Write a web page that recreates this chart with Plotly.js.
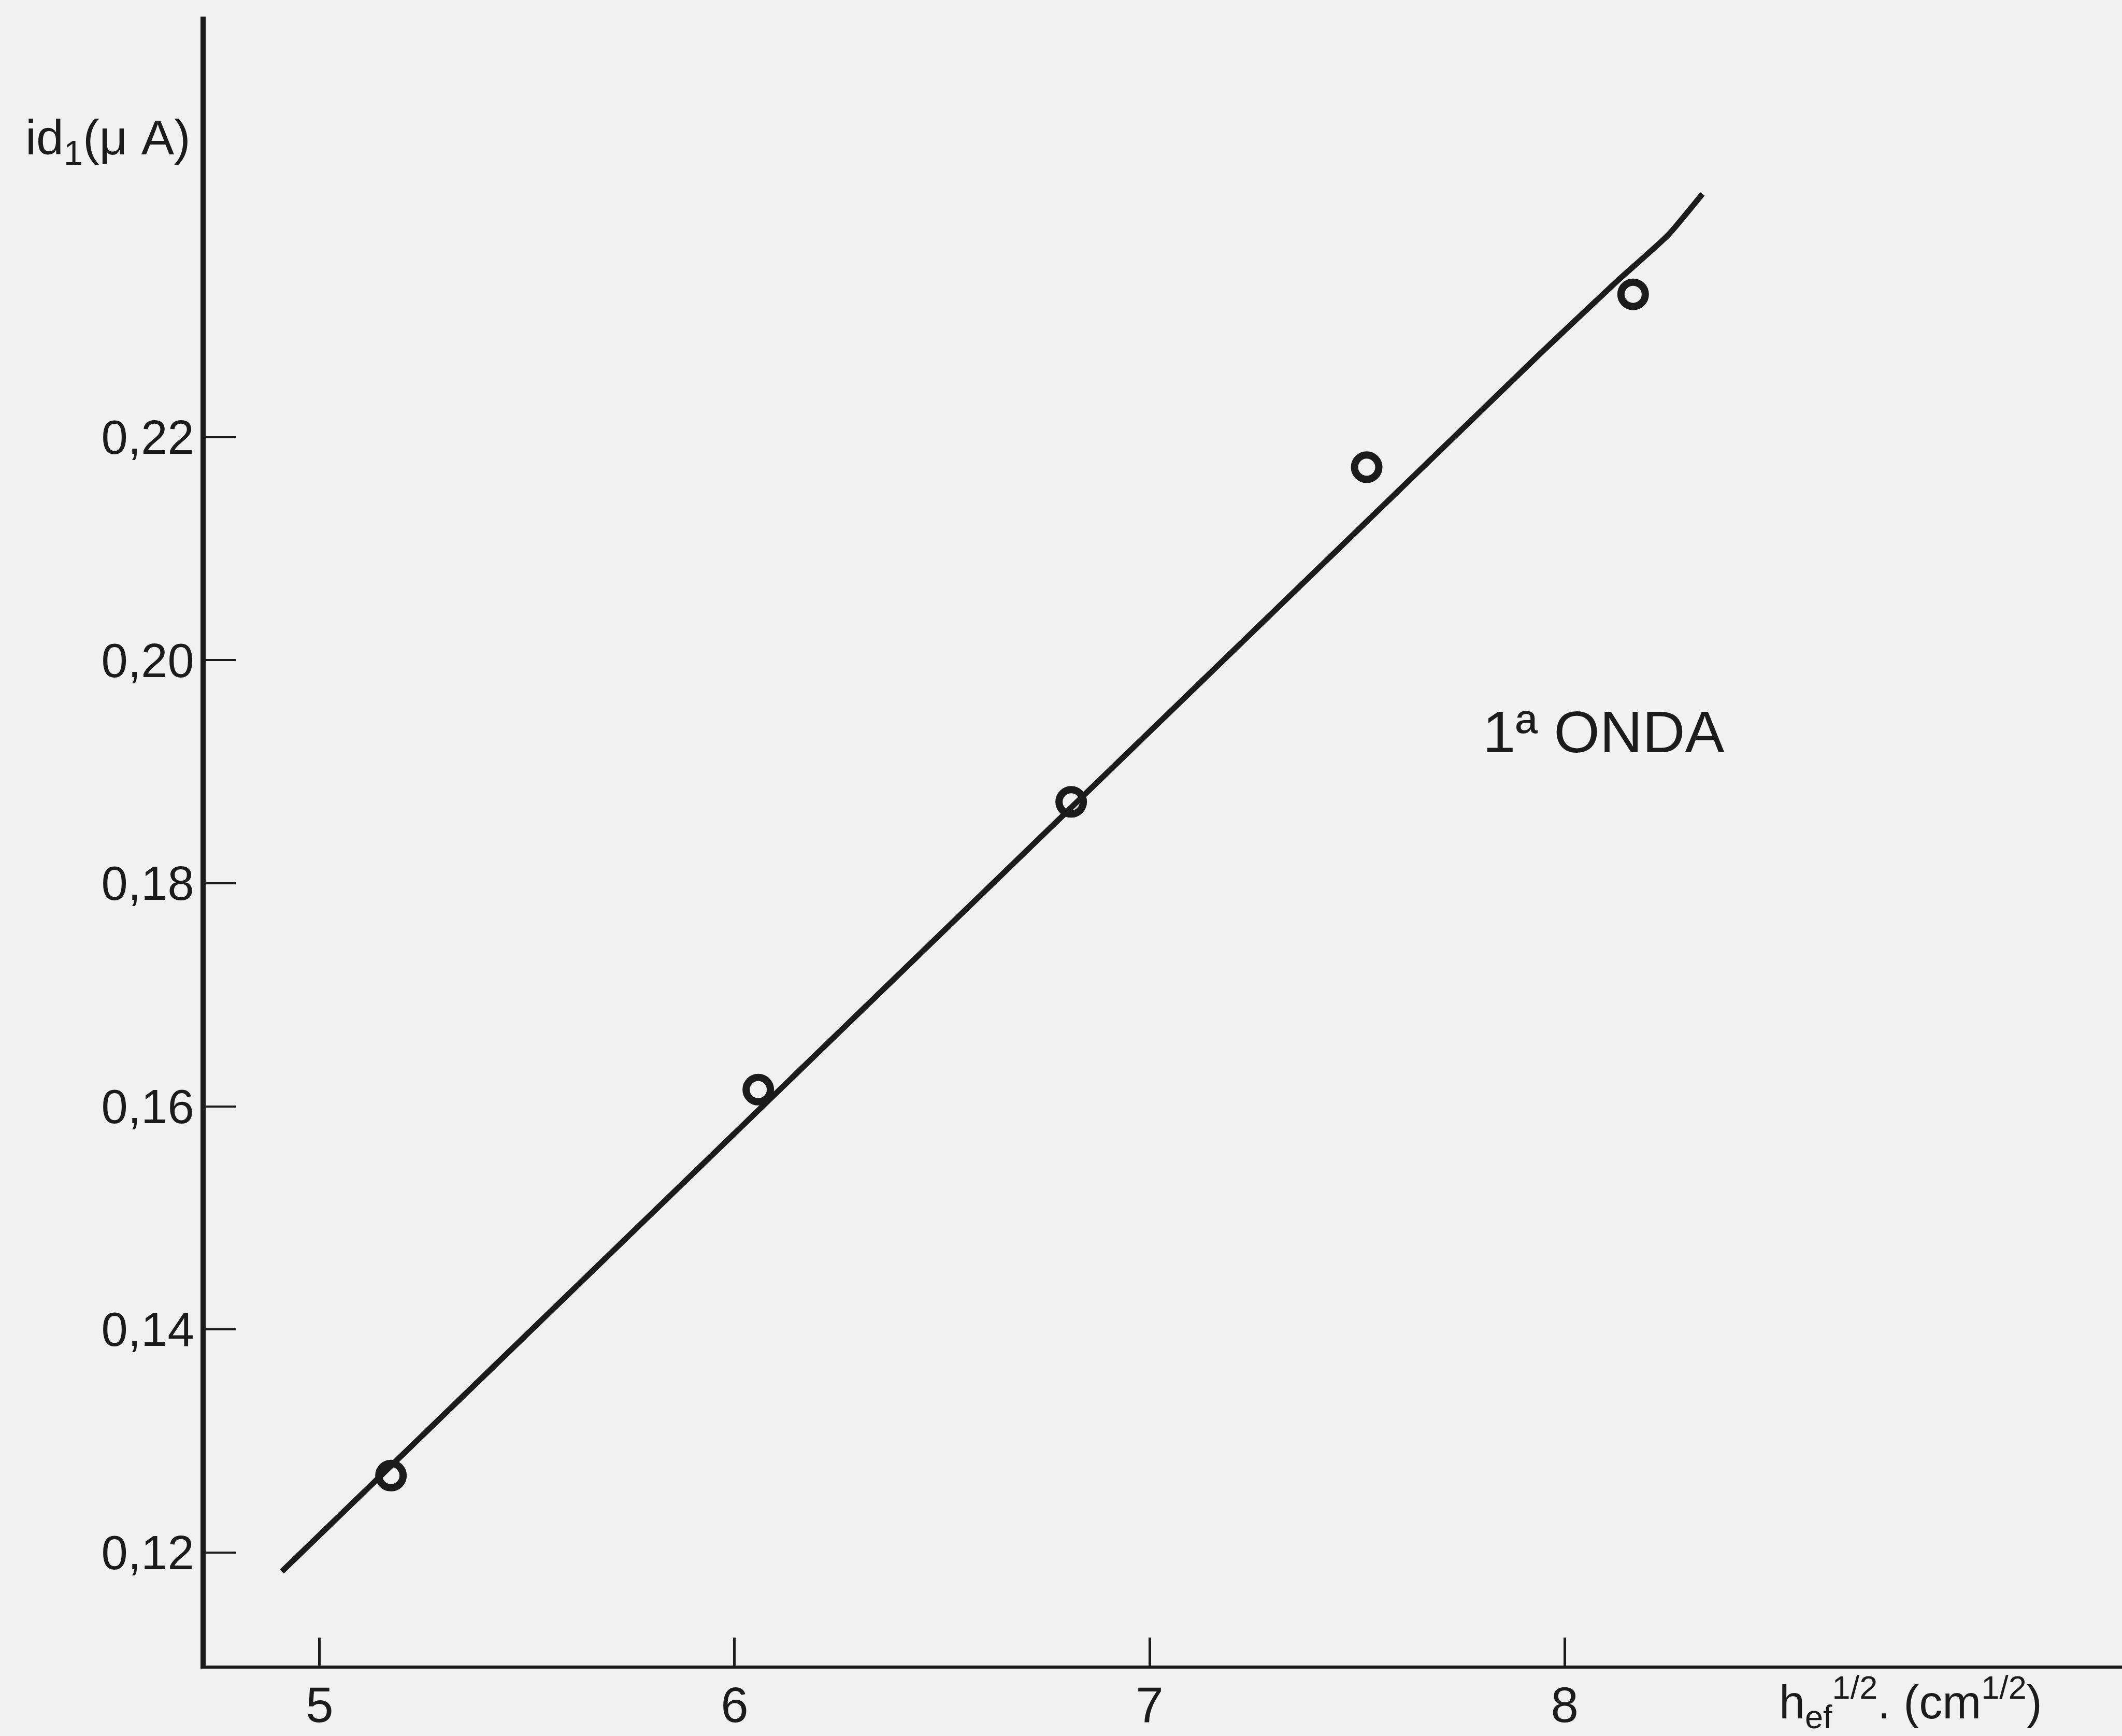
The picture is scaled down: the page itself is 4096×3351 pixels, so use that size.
<!DOCTYPE html>
<html>
<head>
<meta charset="utf-8">
<script src="https://cdn.plot.ly/plotly-3.0.1.min.js"></script>
<style>
  html, body { margin: 0; padding: 0; background: #f1f1f1; }
  #chart { width: 4096px; height: 3351px; }
</style>
</head>
<body>
<div id="chart"></div>
<script>
// Measured points: limiting current of the first wave vs square root of effective height
const sqrtHeight = [5.172, 6.057, 6.811, 7.523, 8.165];
const currentMicroA = [0.1269, 0.1615, 0.1873, 0.2173, 0.2328];

// Hand-drawn straight line through the points (slight upturn at the top end)
const fitX = [4.909, 7.936, 8.124, 8.249, 8.332];
const fitY = [0.1183, 0.2273, 0.2339, 0.2381, 0.2418];

// Axis ticks and their printed labels (decimal comma)
const xTickVals = [5, 6, 7, 8];
const xTickText = ['5', '6', '7', '8'];
const yTickVals = [0.12, 0.14, 0.16, 0.18, 0.20, 0.22];
const yTickText = ['0,12', '0,14', '0,16', '0,18', '0,20', '0,22'];

const ink = '#1b1b1b';
const paper = '#f1f1f1';
const font = 'Liberation Sans, Arial, sans-serif';

const W = 4096, H = 3351;
const margin = { l: 397, r: 0, t: 32, b: 136 };
const plotW = W - margin.l - margin.r;
const plotH = H - margin.t - margin.b;
// convert window pixels to paper fractions
const px = v => (v - margin.l) / plotW;
const py = v => (H - margin.b - v) / plotH;

const traces = [
  {
    x: fitX, y: fitY,
    type: 'scatter', mode: 'lines',
    line: { color: ink, width: 11, shape: 'spline', smoothing: 0.5 },
    hoverinfo: 'skip', showlegend: false
  },
  {
    x: sqrtHeight, y: currentMicroA,
    type: 'scatter', mode: 'markers',
    marker: {
      symbol: 'circle-open', size: 47, color: ink,
      line: { color: ink, width: 14 }
    },
    showlegend: false
  }
];

const layout = {
  width: W, height: H,
  margin: margin,
  paper_bgcolor: paper,
  plot_bgcolor: paper,
  font: { family: font, color: ink },
  showlegend: false,
  xaxis: {
    range: [4.7255, 9.343],
    showgrid: false, zeroline: false,
    showline: true, linecolor: ink, linewidth: 6,
    ticks: 'inside', ticklen: 54, tickwidth: 5, tickcolor: ink,
    tickvals: xTickVals, ticktext: xTickText,
    tickfont: { family: font, size: 96, color: ink },
    ticklabelstandoff: -12
  },
  yaxis: {
    range: [0.10987, 0.2577],
    showgrid: false, zeroline: false,
    showline: true, linecolor: ink, linewidth: 10,
    ticks: 'inside', ticklen: 58, tickwidth: 4, tickcolor: ink,
    tickvals: yTickVals, ticktext: yTickText,
    tickfont: { family: font, size: 92, color: ink },
    ticklabelstandoff: -6
  },
  annotations: [
    {
      text: 'id<sub>1</sub>(μ A)',
      xref: 'paper', yref: 'paper',
      x: px(370), y: py(272),
      xanchor: 'right', yanchor: 'middle',
      showarrow: false,
      font: { family: font, size: 95, color: ink }
    },
    {
      text: 'h<sub>ef</sub><sup>1/2</sup>. (cm<sup>1/2</sup>)',
      xref: 'paper', yref: 'paper',
      x: px(3432), y: py(3285),
      xanchor: 'left', yanchor: 'middle',
      showarrow: false,
      font: { family: font, size: 90, color: ink }
    },
    {
      text: '1ª ONDA',
      xref: 'x', yref: 'y',
      x: 7.80, y: 0.1936,
      xanchor: 'left', yanchor: 'middle',
      showarrow: false,
      font: { family: font, size: 114, color: ink }
    }
  ]
};

Plotly.newPlot('chart', traces, layout, { staticPlot: true, displayModeBar: false });
</script>
</body>
</html>
